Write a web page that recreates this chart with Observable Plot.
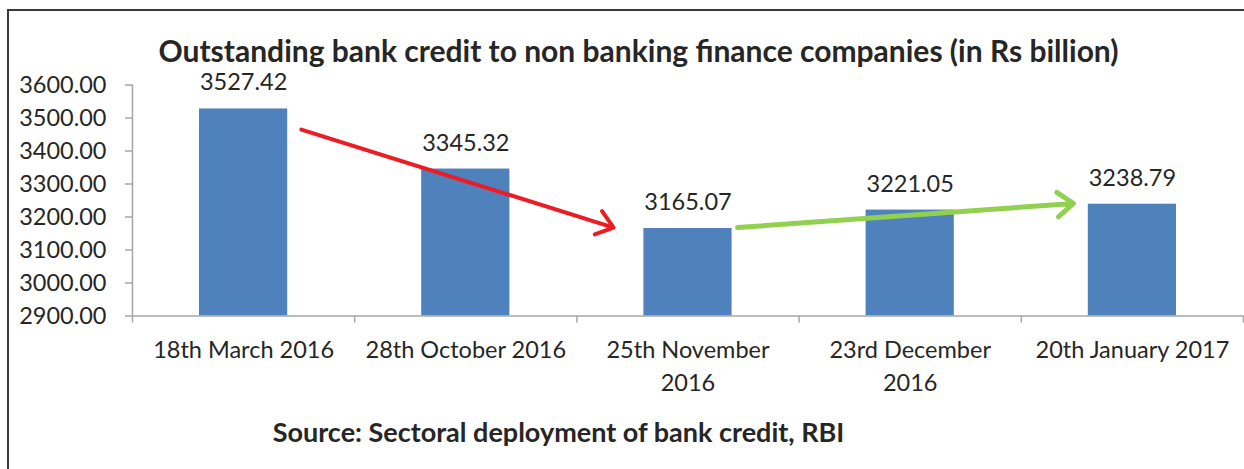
<!DOCTYPE html>
<html><head><meta charset="utf-8">
<script src="https://cdn.jsdelivr.net/npm/d3@7"></script>
<script src="https://cdn.jsdelivr.net/npm/@observablehq/plot@0.6"></script>
<style>
body{margin:0;background:#fff;}
#wrap{position:relative;width:1244px;height:469px;overflow:hidden;font-family:Lato,"Open Sans",sans-serif;color:#262626;background:#fff;}
#frame{position:absolute;left:7px;top:9px;width:1300px;height:520px;border-top:2px solid #3a3a3a;border-left:2px solid #3a3a3a;}
#title{position:absolute;left:0;top:30px;width:1277px;text-align:center;font-weight:bold;font-size:30px;line-height:40px;white-space:nowrap;}
#chart{position:absolute;left:0;top:62px;}
#caption{position:absolute;left:0;top:412px;width:1117px;text-align:center;font-weight:bold;font-size:27px;line-height:40px;white-space:nowrap;}
</style></head>
<body>
<div id="wrap">
<div id="frame"></div>
<div id="title">Outstanding bank credit to non banking finance companies (in Rs billion)</div>
<div id="chart"></div>
<div id="caption">Source: Sectoral deployment of bank credit, RBI</div>
</div>
<script>
const categories = ["18th March 2016", "28th October 2016", "25th November\n2016", "23rd December\n2016", "20th January 2017"];
const values = [3527.42, 3345.32, 3165.07, 3221.05, 3238.79];
const yTicks = [2900, 3000, 3100, 3200, 3300, 3400, 3500, 3600];
// annotation arrows (in category-index / value units)
const redArrowX = [0.76, 2.165];
const redArrowY = [3465, 3168];
const greenArrowX = [2.723, 4.235];
const greenArrowY = [3168, 3241];

const data = categories.map((c, i) => ({i, c, v: values[i]}));
const boundaries = d3.range(categories.length + 1);
const centers = d3.range(categories.length).map(i => i + 0.5);
const gray = "#a6a6a6";
const ink = "#262626";
const fs = 23.5;

const chart = Plot.plot({
  width: 1244,
  height: 350,
  marginTop: 22.5,
  marginBottom: 96.5,
  marginLeft: 132,
  marginRight: 1,
  x: {domain: [0, categories.length], axis: null},
  y: {domain: [yTicks[0], yTicks[yTicks.length - 1]], axis: null},
  style: {fontFamily: "Lato, 'Open Sans', sans-serif", fontSize: fs + "px", color: ink, background: "transparent"},
  marks: [
    Plot.rect(data, {x1: "i", x2: d => d.i + 1, y1: yTicks[0], y2: "v", insetLeft: 67, insetRight: 67, fill: "#4F81BD"}),
    Plot.ruleX([0], {stroke: gray, strokeWidth: 1.5}),
    Plot.ruleY([yTicks[0]], {stroke: gray, strokeWidth: 1.5}),
    Plot.axisY(yTicks, {label: null, tickFormat: d => d.toFixed(2), tickSize: 7, tickPadding: 19, stroke: gray, strokeWidth: 1.5, fill: ink, fontSize: fs}),
    Plot.axisX(boundaries, {label: null, tickFormat: () => "", tickSize: 7, stroke: gray, strokeWidth: 1.5}),
    Plot.axisX(centers, {label: null, tickFormat: x => categories[Math.floor(x)], tickSize: 0, tickPadding: 19, lineHeight: 1.4, fill: ink, fontSize: fs}),
    Plot.text(data, {x: d => d.i + 0.5, y: "v", text: d => d.v.toFixed(2), dy: -26, fill: ink, fontSize: fs}),
    Plot.arrow([0], {x1: () => redArrowX[0], y1: () => redArrowY[0], x2: () => redArrowX[1], y2: () => redArrowY[1], stroke: "#ED1C24", strokeWidth: 4, headLength: 7.5, headAngle: 75}),
    Plot.arrow([0], {x1: () => greenArrowX[0], y1: () => greenArrowY[0], x2: () => greenArrowX[1], y2: () => greenArrowY[1], stroke: "#92D050", strokeWidth: 5, headLength: 6, headAngle: 75})
  ]
});
document.getElementById("chart").appendChild(chart);
</script>
</body></html>
